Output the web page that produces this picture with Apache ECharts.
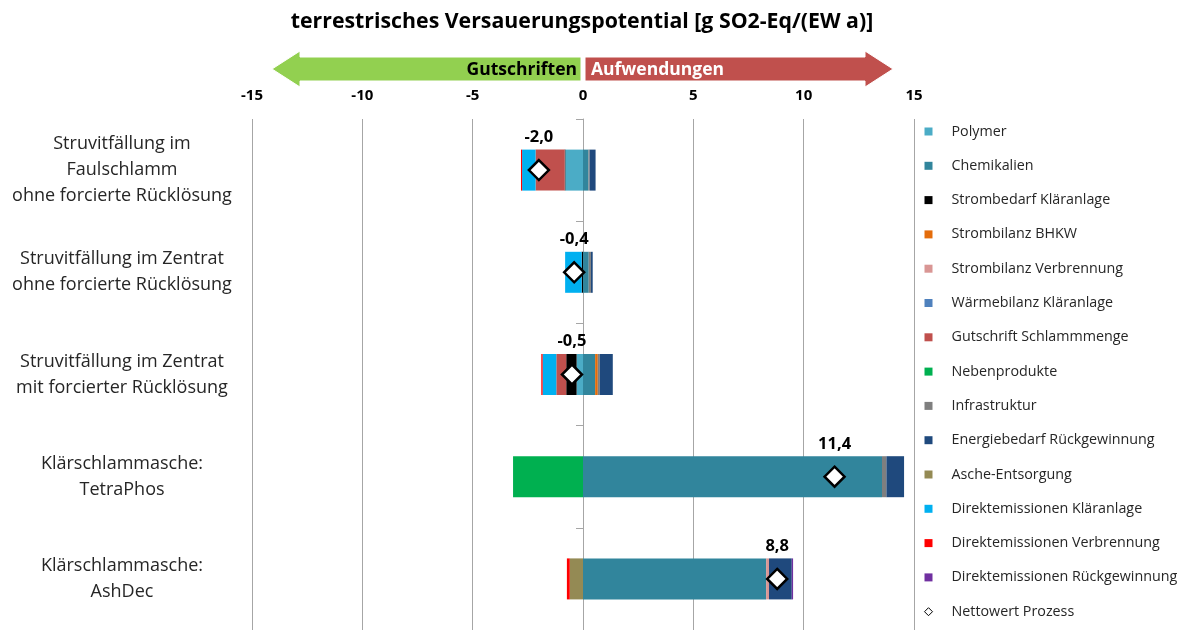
<!DOCTYPE html>
<html>
<head>
<meta charset="utf-8">
<script src="https://cdn.jsdelivr.net/npm/echarts@6/dist/echarts.min.js"></script>
<style>html,body{margin:0;padding:0;background:#fff;}#c{width:1184px;height:630px;}</style>
</head>
<body>
<div id="c"></div>
<script>
const categories = [
  "Struvitfällung im\nFaulschlamm\nohne forcierte Rücklösung",
  "Struvitfällung im Zentrat\nohne forcierte Rücklösung",
  "Struvitfällung im Zentrat\nmit forcierter Rücklösung",
  "Klärschlammasche:\nTetraPhos",
  "Klärschlammasche:\nAshDec"
];
const xTicks = { min: -15, max: 15, interval: 5 };

const polymer        = [-0.80,  0.00, -0.29,  0.00,  0.00];
const chemikalien    = [ 0.25,  0.26,  0.55, 13.55,  8.30];
const strombedarf    = [-0.03, -0.06, -0.47,  0.00,  0.00];
const strombhkw      = [ 0.00,  0.00,  0.12,  0.00,  0.00];
const stromverbr     = [ 0.00,  0.00,  0.00,  0.00,  0.13];
const waerme         = [ 0.00,  0.00,  0.00,  0.00,  0.00];
const gutschrift     = [-1.32,  0.00, -0.45,  0.00,  0.00];
const nebenprodukte  = [ 0.00,  0.00,  0.00, -3.17,  0.00];
const infrastruktur  = [ 0.05,  0.10,  0.09,  0.20,  0.00];
const energie        = [ 0.27,  0.08,  0.59,  0.80,  1.03];
const asche          = [ 0.00,  0.00,  0.00,  0.00, -0.60];
const direktKA       = [-0.61, -0.75, -0.62,  0.00,  0.00];
const direktVerbr    = [-0.05,  0.00, -0.06,  0.00, -0.13];
const direktRueck    = [ 0.00,  0.00,  0.00,  0.00,  0.06];
const netto          = [-2.0, -0.4, -0.5, 11.4, 8.8];

const seriesDefs = [
  ["Polymer", polymer, "#4BACC6"],
  ["Chemikalien", chemikalien, "#31859C"],
  ["Strombedarf Kläranlage", strombedarf, "#000000"],
  ["Strombilanz BHKW", strombhkw, "#E46C0A"],
  ["Strombilanz Verbrennung", stromverbr, "#D99694"],
  ["Wärmebilanz Kläranlage", waerme, "#4F81BD"],
  ["Gutschrift Schlammmenge", gutschrift, "#C0504D"],
  ["Nebenprodukte", nebenprodukte, "#00B050"],
  ["Infrastruktur", infrastruktur, "#7F7F7F"],
  ["Energiebedarf Rückgewinnung", energie, "#1F497D"],
  ["Asche-Entsorgung", asche, "#948A54"],
  ["Direktemissionen Kläranlage", direktKA, "#00B0F0"],
  ["Direktemissionen Verbrennung", direktVerbr, "#FF0000"],
  ["Direktemissionen Rückgewinnung", direktRueck, "#7030A0"]
];
const nettoName = "Nettowert Prozess";
const FONT = "Open Sans";

const series = seriesDefs.map(([name, data, color]) => ({
  name, type: 'bar', stack: 'total', data, barWidth: 41,
  itemStyle: { color }, emphasis: { disabled: true }
}));
series.push({
  name: nettoName, type: 'scatter', z: 10,
  data: netto.map((v, i) => [v, i]),
  symbol: 'diamond', symbolSize: 20,
  itemStyle: { color: '#ffffff', borderColor: '#000000', borderWidth: 2.5, opacity: 1 },
  emphasis: { disabled: true },
  label: {
    show: true, position: 'top', distance: 13,
    fontFamily: FONT, fontWeight: 'bold', fontSize: 16.5, color: '#000',
    formatter: p => p.value[0].toFixed(1).replace('.', ',')
  }
});

const chart = echarts.init(document.getElementById('c'), null, { renderer: 'canvas' });
chart.setOption({
  animation: false,
  backgroundColor: '#fff',
  textStyle: { fontFamily: FONT },
  title: {
    text: 'terrestrisches Versauerungspotential [g SO2-Eq/(EW a)]',
    left: 577, top: 6, textAlign: 'center',
    textStyle: { fontFamily: FONT, fontWeight: 'bold', fontSize: 21.3, color: '#000' }
  },
  grid: { left: 252, right: 270, top: 119, bottom: 0, containLabel: false },
  xAxis: {
    type: 'value', position: 'top', min: xTicks.min, max: xTicks.max, interval: xTicks.interval,
    axisLine: { show: false }, axisTick: { show: false },
    axisLabel: { margin: 16, fontFamily: FONT, fontWeight: 'bold', fontSize: 15, color: '#000' },
    splitLine: { show: true, lineStyle: { color: '#A6A6A6', width: 1 } }
  },
  yAxis: {
    type: 'category', inverse: true, data: categories,
    axisLine: { show: true, lineStyle: { color: '#A6A6A6' } },
    axisTick: { show: true, length: 7, lineStyle: { color: '#A6A6A6' } },
    axisLabel: { margin: 130, align: 'center', fontFamily: FONT, fontSize: 18, lineHeight: 26, color: '#262626' }
  },
  legend: {
    orient: 'vertical', left: 924, top: 122, padding: 0,
    itemWidth: 8, itemHeight: 8, itemGap: 15.3,
    data: seriesDefs.map(d => ({ name: d[0], icon: 'rect' })).concat([{ name: nettoName, icon: 'diamond', itemStyle: { color: '#fff', borderColor: '#000', borderWidth: 1 } }]),
    textStyle: { fontFamily: FONT, fontSize: 14.3, color: '#262626', lineHeight: 19, padding: [0, 0, 0, 14] },
    selectedMode: false
  },
  graphic: [
    { type: 'polygon', shape: { points: [[272,69],[300,51],[300,57],[581,57],[581,81],[300,81],[300,87]] }, style: { fill: '#92D050', stroke: '#fff', lineWidth: 1 } },
    { type: 'polygon', shape: { points: [[893,69],[865,51],[865,57],[585,57],[585,81],[865,81],[865,87]] }, style: { fill: '#C0504D', stroke: '#fff', lineWidth: 1 } },
    { type: 'text', x: 577, y: 70, style: { text: 'Gutschriften', fill: '#000', font: 'bold 17.5px "Open Sans"', textAlign: 'right', textVerticalAlign: 'middle' } },
    { type: 'text', x: 591, y: 70, style: { text: 'Aufwendungen', fill: '#fff', font: 'bold 17.5px "Open Sans"', textAlign: 'left', textVerticalAlign: 'middle' } }
  ],
  series
});
</script>
</body>
</html>
